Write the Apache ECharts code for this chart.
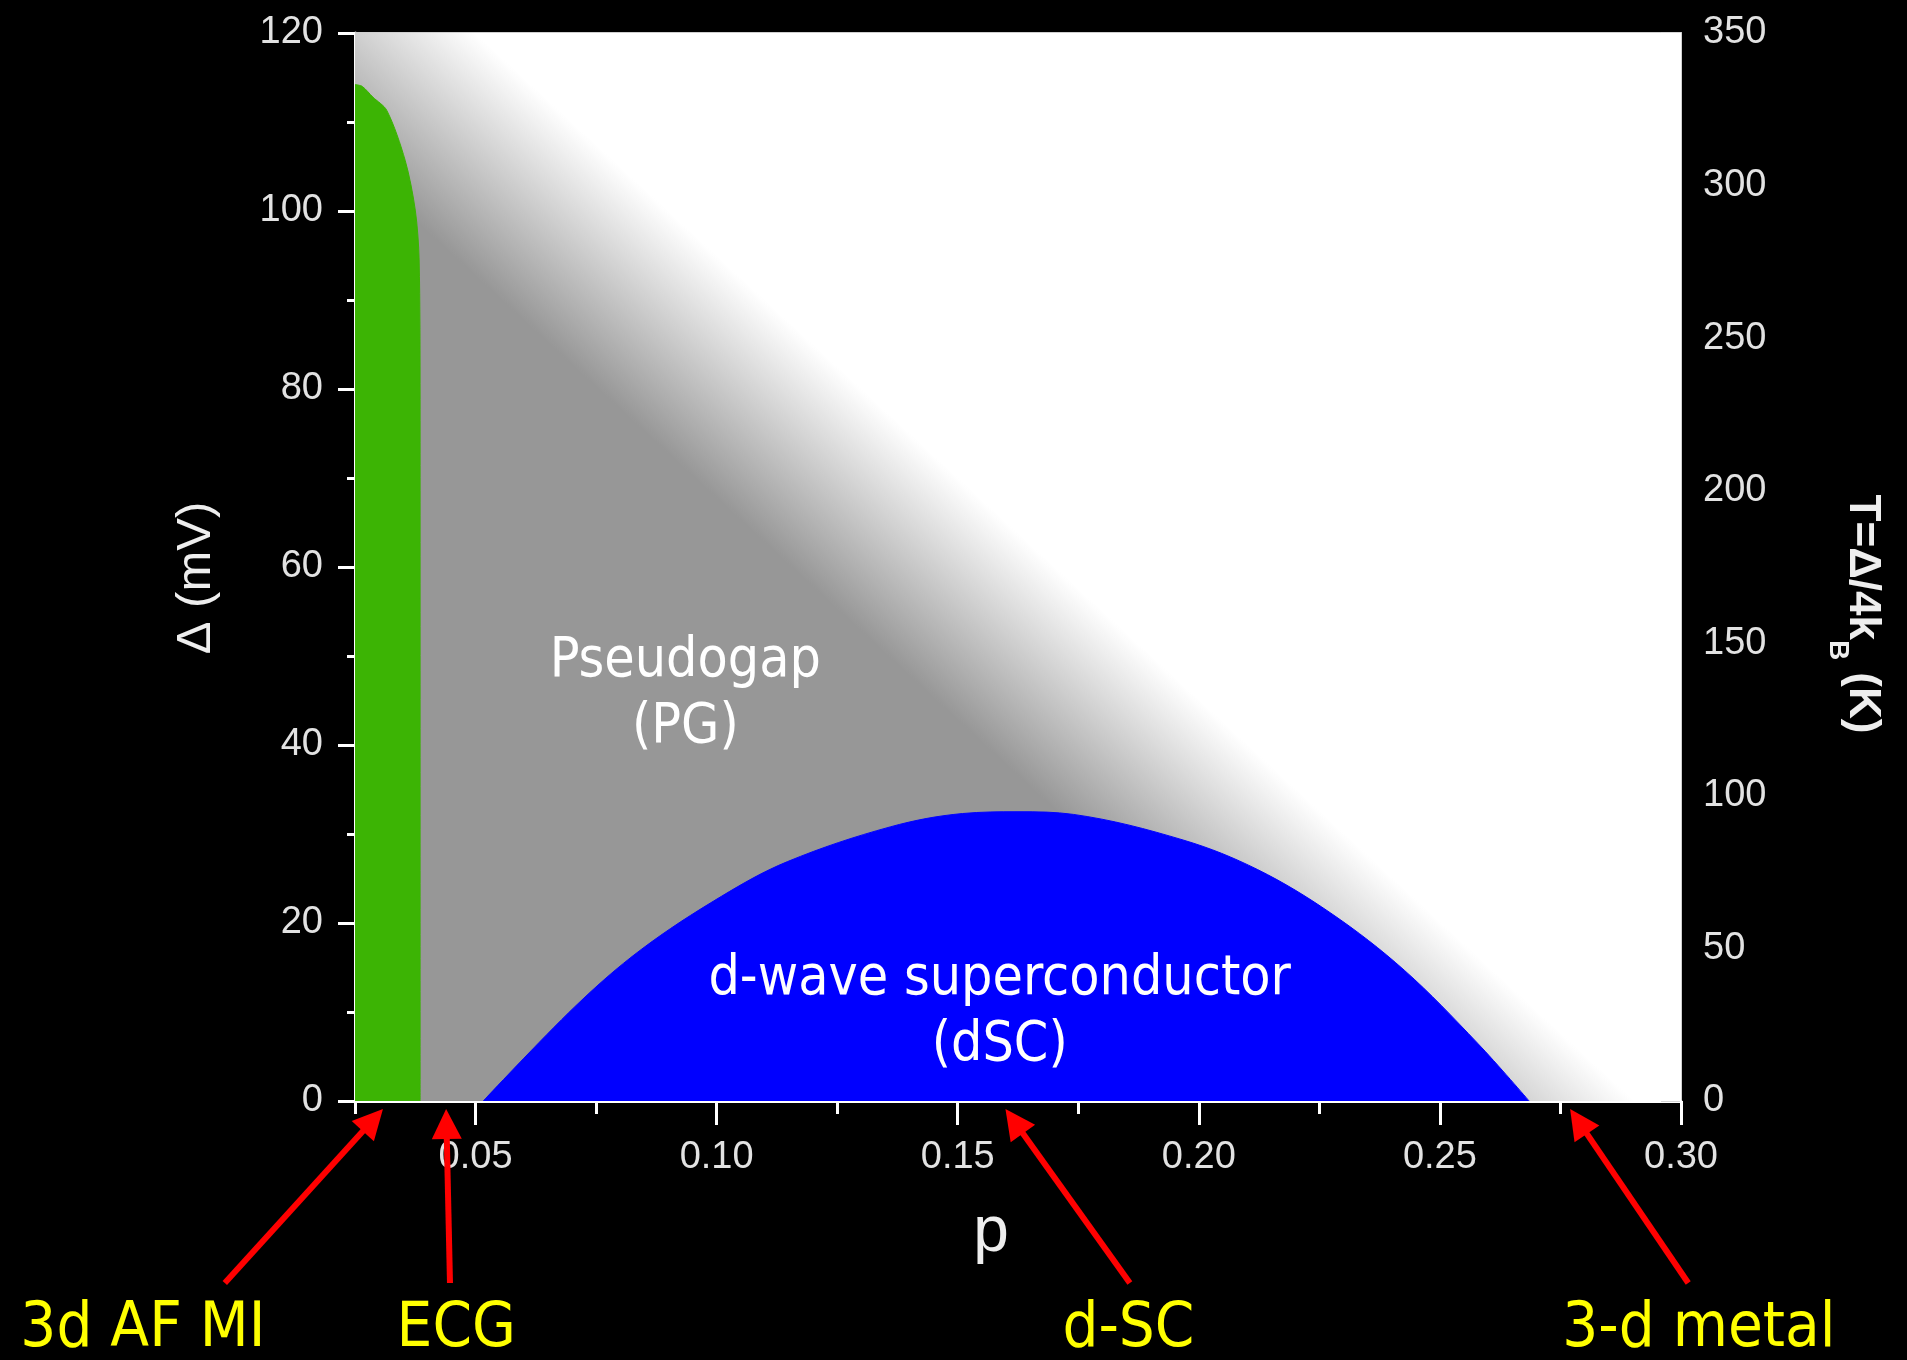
<!DOCTYPE html>
<html>
<head>
<meta charset="utf-8">
<script src="https://cdn.jsdelivr.net/npm/echarts@6/dist/echarts.min.js"></script>
<style>
html,body{margin:0;padding:0;background:#000;}
#chart{width:1907px;height:1360px;}
</style>
</head>
<body>
<div id="chart"></div>
<script>
// ---------- data ----------
const xMajorTicks = [0.05, 0.10, 0.15, 0.20, 0.25, 0.30];
const xMinorTicks = [0.025, 0.075, 0.125, 0.175, 0.225, 0.275];
const xTickLabels = ['0.05', '0.10', '0.15', '0.20', '0.25', '0.30'];

// 3d antiferromagnetic Mott insulator region (green)
const afP     = [0.0250, 0.0265, 0.0287, 0.0316, 0.0354, 0.0375, 0.0383, 0.0385, 0.0385];
const afDelta = [114.2, 114.0, 112.8, 111.3, 105.7, 100.1, 94.5, 78.8, 0];

// d-wave superconducting dome (blue)
const scP     = [0.0516, 0.0706, 0.0843, 0.1010, 0.1147, 0.1360, 0.1510, 0.1625, 0.1740, 0.1969, 0.2122, 0.2274, 0.2426, 0.2578, 0.2685];
const scDelta = [0, 10.6, 17.0, 23.0, 26.9, 30.8, 32.3, 32.5, 32.2, 29.3, 26.0, 21.1, 14.7, 6.5, 0];

// pseudogap crossover (centre of the grey -> white fade)
const pgLineP = [0.0226, 0.2631];
const pgLineDelta = [120, 0];
const pgBandWidthP = 0.0546;

// region labels
const regionLabels = ['Pseudogap\n(PG)', 'd-wave superconductor\n(dSC)'];
const regionLabelP = [0.0935, 0.1587];
const regionLabelDelta = [45.6, 9.9];

// arrow annotations under the p axis
const arrowLabels = ['3d AF MI', 'ECG', 'd-SC', '3-d metal'];
const arrowHeadP  = [0.0308, 0.0439, 0.1599, 0.2770];
const arrowTailP  = [-0.0020, 0.0447, 0.1857, 0.3015];
const arrowLabelP = [-0.0190, 0.0460, 0.1854, 0.3037];

// ---------- chart ----------
const chart = echarts.init(document.getElementById('chart'), null, {renderer: 'canvas'});
const sansFont = '"Liberation Sans", Arial, sans-serif';
const tickFont = {color: '#e2e2e2', fontSize: 38, fontFamily: sansFont};
const comicFont = '"DejaVu Sans Condensed", "DejaVu Sans", sans-serif';

function renderPG(params, api) {
  const cs = params.coordSys;
  const a = api.coord([api.value(0), api.value(1)]);
  const b = api.coord([api.value(2), api.value(3)]);
  let ux = b[0] - a[0], uy = b[1] - a[1];
  const L = Math.hypot(ux, uy); ux /= L; uy /= L;
  const nx = uy, ny = -ux;
  const hw = api.size([pgBandWidthP / 2, 0])[0] * nx;
  const mx = (a[0] + b[0]) / 2, my = (a[1] + b[1]) / 2;
  return {
    type: 'rect',
    shape: {x: cs.x, y: cs.y, width: cs.width, height: cs.height},
    style: {
      fill: new echarts.graphic.LinearGradient(
        mx - nx * hw, my - ny * hw, mx + nx * hw, my + ny * hw,
        [{offset: 0, color: '#979797'}, {offset: 1, color: '#ffffff'}], true)
    }
  };
}

function renderRegionLabel(params, api) {
  const pt = api.coord([api.value(0), api.value(1)]);
  return {
    type: 'text', x: pt[0], y: pt[1],
    style: {
      text: regionLabels[params.dataIndex], fill: '#ffffff',
      fontSize: 55, fontFamily: comicFont, align: 'center', verticalAlign: 'middle', lineHeight: 66
    }
  };
}

function renderArrow(params, api) {
  const i = params.dataIndex;
  const base = api.coord([api.value(0), 0]);
  const axisY = base[1];
  const hx = base[0], hy = axisY + 8;
  const tx = api.coord([arrowTailP[i], 0])[0], ty = axisY + 182;
  const lx = api.coord([arrowLabelP[i], 0])[0], ly = axisY + 229;
  let dx = hx - tx, dy = hy - ty;
  const L = Math.hypot(dx, dy); dx /= L; dy /= L;
  const headLen = 30, headW = 15;
  const bx = hx - dx * headLen, by = hy - dy * headLen;
  const px = -dy, py = dx;
  return {
    type: 'group',
    children: [
      {type: 'line', shape: {x1: tx, y1: ty, x2: bx + dx * 3, y2: by + dy * 3},
       style: {stroke: '#ff0000', lineWidth: 6}},
      {type: 'polygon', shape: {points: [[hx, hy], [bx + px * headW, by + py * headW], [bx - px * headW, by - py * headW]]},
       style: {fill: '#ff0000'}},
      {type: 'text', x: lx, y: ly,
       style: {text: arrowLabels[i], fill: '#ffff00', fontSize: 63, fontFamily: comicFont,
               align: 'center', verticalAlign: 'middle'}}
    ]
  };
}

const option = {
  backgroundColor: '#000000',
  animation: false,
  grid: {
    left: 355, right: 226, top: 33, bottom: 259,
    show: true, backgroundColor: '#ffffff', borderColor: '#cfcfcf', borderWidth: 1,
    outerBoundsMode: 'none', containLabel: false
  },
  xAxis: [
    {
      type: 'value', min: 0.025, max: 0.30, interval: 0.025, position: 'bottom',
      name: 'p', nameLocation: 'middle', nameGap: 100,
      nameTextStyle: {color: '#eeeeee', fontSize: 64, fontFamily: sansFont, padding: [0, 54, 0, 0]},
      axisLine: {show: true, onZero: false, lineStyle: {color: '#ffffff', width: 3}},
      axisTick: {show: true, customValues: xMajorTicks, length: 24, lineStyle: {color: '#ffffff', width: 3}},
      axisLabel: Object.assign({show: true, margin: 38, customValues: xMajorTicks,
        formatter: v => xTickLabels[xMajorTicks.findIndex(t => Math.abs(t - v) < 1e-6)] || ''}, tickFont),
      splitLine: {show: false}
    },
    {
      type: 'value', min: 0.025, max: 0.30, interval: 0.025, position: 'bottom',
      axisLine: {show: false, onZero: false},
      axisTick: {show: true, customValues: xMinorTicks, length: 13, lineStyle: {color: '#ffffff', width: 3}},
      axisLabel: {show: false},
      splitLine: {show: false}
    },
    {
      type: 'value', min: 0.025, max: 0.30, interval: 0.025, position: 'top',
      axisLine: {show: true, onZero: false, lineStyle: {color: '#cfcfcf', width: 2}},
      axisTick: {show: false}, axisLabel: {show: false}, splitLine: {show: false}
    }
  ],
  yAxis: [
    {
      type: 'value', min: 0, max: 120, interval: 20, position: 'left',
      name: 'Δ (mV)', nameLocation: 'middle', nameGap: 134,
      nameTextStyle: {color: '#eeeeee', fontSize: 49, fontFamily: sansFont, padding: [0, 22, 0, 0]},
      axisLine: {show: true, onZero: false, lineStyle: {color: '#ffffff', width: 3}},
      axisTick: {show: true, length: 17, lineStyle: {color: '#ffffff', width: 3}},
      minorTick: {show: true, splitNumber: 2, length: 8, lineStyle: {color: '#ffffff', width: 3}},
      axisLabel: Object.assign({show: true, margin: 32}, tickFont),
      splitLine: {show: false}
    },
    {
      type: 'value', min: 0, max: 350, interval: 50, position: 'right',
      name: '{p|}{a|T=Δ/4k}{s|B}{a| (K)}', nameLocation: 'middle', nameGap: 143, nameRotate: -90,
      nameTextStyle: {
        color: '#eeeeee',
        rich: {
          p: {width: 94, lineHeight: 76},
          a: {color: '#eeeeee', fontSize: 44, fontWeight: 'bold', fontFamily: sansFont, lineHeight: 76, verticalAlign: 'middle'},
          s: {color: '#eeeeee', fontSize: 28, fontWeight: 'bold', fontFamily: sansFont, lineHeight: 76, verticalAlign: 'bottom'}
        }
      },
      axisLine: {show: true, onZero: false, lineStyle: {color: '#d0d0d0', width: 2}},
      axisTick: {show: true, inside: true, length: 20, lineStyle: {color: '#d6d6d6', width: 2}},
      minorTick: {show: true, splitNumber: 2, length: 10, lineStyle: {color: '#d6d6d6', width: 2}},
      axisLabel: Object.assign({show: true, margin: 22}, tickFont),
      splitLine: {show: false}
    }
  ],
  series: [
    {
      type: 'custom', name: 'pseudogap', xAxisIndex: 0, yAxisIndex: 0, z: 1, silent: true,
      renderItem: renderPG,
      encode: {x: [0, 2], y: [1, 3]},
      data: [[pgLineP[0], pgLineDelta[0], pgLineP[1], pgLineDelta[1]]]
    },
    {
      type: 'line', name: 'AF MI', xAxisIndex: 0, yAxisIndex: 0, z: 2, silent: true,
      symbol: 'none', smooth: 0.3,
      lineStyle: {color: '#3cb404', width: 1},
      areaStyle: {color: '#3cb404', opacity: 1},
      data: afP.map((p, i) => [p, afDelta[i]])
    },
    {
      type: 'line', name: 'dSC', xAxisIndex: 0, yAxisIndex: 0, z: 2, silent: true,
      symbol: 'none', smooth: 0.35,
      lineStyle: {color: '#0000ff', width: 1},
      areaStyle: {color: '#0000ff', opacity: 1},
      data: scP.map((p, i) => [p, scDelta[i]])
    },
    {
      type: 'custom', name: 'region labels', xAxisIndex: 0, yAxisIndex: 0, z: 5, silent: true,
      renderItem: renderRegionLabel,
      data: regionLabelP.map((p, i) => [p, regionLabelDelta[i]])
    },
    {
      type: 'custom', name: 'arrows', xAxisIndex: 0, yAxisIndex: 0, z: 6, silent: true, clip: false,
      renderItem: renderArrow,
      data: arrowHeadP.map(p => [p, 0])
    }
  ]
};
chart.setOption(option);
</script>
</body>
</html>
